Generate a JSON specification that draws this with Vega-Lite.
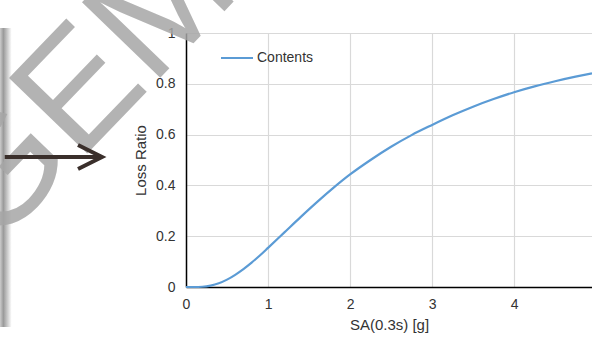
{
  "$schema": "https://vega.github.io/schema/vega-lite/v6.json",
  "autosize": "none",
  "width": 406,
  "height": 254,
  "padding": {"left": 186, "top": 33, "right": 0, "bottom": 50},
  "background": "white",
  "config": {
    "view": {"stroke": null},
    "font": "Liberation Sans",
    "axis": {
      "gridColor": "#d9d9d9",
      "gridWidth": 1.2,
      "domainColor": "#000000",
      "domainWidth": 1.5,
      "ticks": false,
      "tickSize": 0,
      "labelFont": "Liberation Sans",
      "labelFontSize": 14,
      "labelColor": "#333333",
      "titleFont": "Liberation Sans",
      "titleFontSize": 15,
      "titleFontWeight": "normal",
      "titleColor": "#333333"
    }
  },
  "resolve": {"axis": {"x": "independent", "y": "independent"}},
  "datasets": {
    "curve": [
      {"sa": 0, "loss": 0, "series": "Contents"},
      {"sa": 0.1, "loss": 0.0, "series": "Contents"},
      {"sa": 0.2, "loss": 0.001, "series": "Contents"},
      {"sa": 0.3, "loss": 0.0055, "series": "Contents"},
      {"sa": 0.4, "loss": 0.0146, "series": "Contents"},
      {"sa": 0.5, "loss": 0.029, "series": "Contents"},
      {"sa": 0.6, "loss": 0.048, "series": "Contents"},
      {"sa": 0.7, "loss": 0.0705, "series": "Contents"},
      {"sa": 0.8, "loss": 0.096, "series": "Contents"},
      {"sa": 0.9, "loss": 0.124, "series": "Contents"},
      {"sa": 1.0, "loss": 0.154, "series": "Contents"},
      {"sa": 1.2, "loss": 0.215, "series": "Contents"},
      {"sa": 1.4, "loss": 0.276, "series": "Contents"},
      {"sa": 1.6, "loss": 0.335, "series": "Contents"},
      {"sa": 1.8, "loss": 0.391, "series": "Contents"},
      {"sa": 2.0, "loss": 0.443, "series": "Contents"},
      {"sa": 2.25, "loss": 0.5, "series": "Contents"},
      {"sa": 2.5, "loss": 0.552, "series": "Contents"},
      {"sa": 2.75, "loss": 0.598, "series": "Contents"},
      {"sa": 3.0, "loss": 0.638, "series": "Contents"},
      {"sa": 3.25, "loss": 0.676, "series": "Contents"},
      {"sa": 3.5, "loss": 0.71, "series": "Contents"},
      {"sa": 3.75, "loss": 0.74, "series": "Contents"},
      {"sa": 4.0, "loss": 0.767, "series": "Contents"},
      {"sa": 4.25, "loss": 0.79, "series": "Contents"},
      {"sa": 4.5, "loss": 0.81, "series": "Contents"},
      {"sa": 4.75, "loss": 0.828, "series": "Contents"},
      {"sa": 4.95, "loss": 0.841, "series": "Contents"}
    ]
  },
  "layer": [
    {
      "data": {"values": [{}]},
      "mark": {
        "type": "rect",
        "fill": {
          "gradient": "linear", "x1": 0, "x2": 1, "y1": 0, "y2": 0,
          "stops": [
            {"offset": 0, "color": "#cfcfcf"},
            {"offset": 0.3, "color": "#9a9a9a"},
            {"offset": 1, "color": "#ffffff"}
          ]
        }
      },
      "encoding": {
        "x": {"datum": -2.27, "type": "quantitative", "scale": {"domain": [0, 4.95], "nice": false}, "axis": null},
        "x2": {"datum": -2.125},
        "y": {"datum": 1.02, "type": "quantitative", "scale": {"domain": [0, 1], "nice": false}, "axis": null},
        "y2": {"datum": -0.157}
      }
    },
    {
      "data": {"values": [{}]},
      "mark": {
        "type": "text",
        "text": "GEM",
        "font": "Liberation Sans",
        "fontSize": 158,
        "angle": -46,
        "align": "center",
        "baseline": "middle",
        "fill": "#a6a6a6",
        "fillOpacity": 0.85
      },
      "encoding": {
        "x": {"datum": -1.244, "type": "quantitative", "scale": {"domain": [0, 4.95], "nice": false}, "axis": null},
        "y": {"datum": 0.7795, "type": "quantitative", "scale": {"domain": [0, 1], "nice": false}, "axis": null}
      }
    },
    {
      "data": {"values": [{}]},
      "mark": {"type": "rule", "color": "#3a2f2b", "strokeWidth": 4},
      "encoding": {
        "x": {"datum": -2.21, "type": "quantitative", "scale": {"domain": [0, 4.95], "nice": false}, "axis": null},
        "x2": {"datum": -1.04},
        "y": {"datum": 0.512, "type": "quantitative", "scale": {"domain": [0, 1], "nice": false}, "axis": null}
      }
    },
    {
      "data": {"values": [{}]},
      "mark": {
        "type": "point",
        "shape": "M-1,-0.5L0,0L-1,0.5",
        "size": 2304,
        "filled": false,
        "color": "#3a2f2b",
        "opacity": 1,
        "strokeWidth": 4
      },
      "encoding": {
        "x": {"datum": -1.024, "type": "quantitative", "scale": {"domain": [0, 4.95], "nice": false}, "axis": null},
        "y": {"datum": 0.512, "type": "quantitative", "scale": {"domain": [0, 1], "nice": false}, "axis": null}
      }
    },
    {
      "data": {"name": "curve"},
      "mark": {"type": "line", "strokeWidth": 2.2, "interpolate": "monotone"},
      "encoding": {
        "x": {
          "field": "sa", "type": "quantitative",
          "scale": {"domain": [0, 4.95], "nice": false},
          "axis": {"title": "SA(0.3s) [g]", "values": [0, 1, 2, 3, 4, 5], "format": "d", "labelPadding": 10, "titlePadding": 6, "labelFlush": false, "grid": true}
        },
        "y": {
          "field": "loss", "type": "quantitative",
          "scale": {"domain": [0, 1], "nice": false},
          "axis": {"title": "Loss Ratio", "values": [0, 0.2, 0.4, 0.6, 0.8, 1], "format": "~g", "labelPadding": 11, "titlePadding": 7, "grid": true}
        },
        "color": {
          "field": "series", "type": "nominal",
          "scale": {"domain": ["Contents"], "range": ["#5b9bd5"]},
          "legend": {
            "title": null,
            "orient": "none",
            "legendX": 34,
            "legendY": 8,
            "padding": 0,
            "symbolType": "stroke",
            "symbolSize": 1024,
            "symbolStrokeWidth": 2,
            "labelFont": "Liberation Sans",
            "labelFontSize": 14,
            "labelColor": "#333333",
            "labelOffset": 3
          }
        }
      }
    }
  ]
}
